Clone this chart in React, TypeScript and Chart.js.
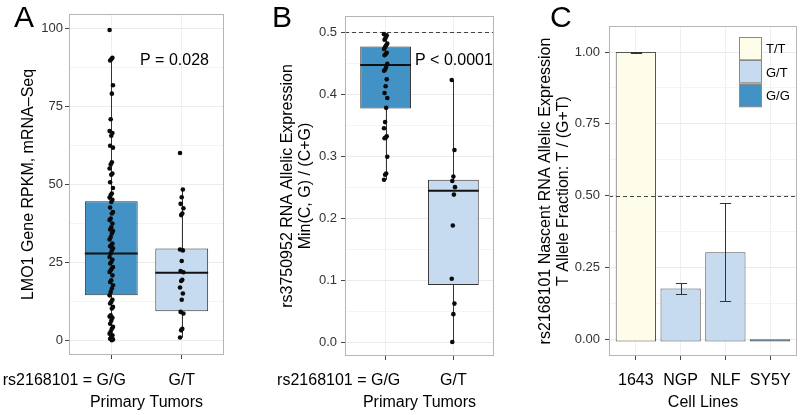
import React, { useEffect, useRef } from 'react';
import { Chart, registerables } from 'chart.js';

Chart.register(...registerables);

const FONT = '"Liberation Sans", Arial, Helvetica, sans-serif';
const PAGE_W = 800;
const PAGE_H = 415;

const GG_FILL = '#4292c6';
const GT_FILL = '#c6dbef';
const TT_FILL = '#fefdea';

// ---------------- Panel A ----------------
const aGroups = ['G/G', 'G/T'];
const aValuesGG = [99.4, 90.5, 90.0, 89.6, 81.7, 79.0, 70.8, 67.0, 66.4, 65.5, 62.3, 61.7, 57.0, 56.3, 55.0, 53.4, 53.0, 50.6, 48.8, 47.0, 46.5, 45.7, 45.0, 44.3, 42.5, 41.1, 40.6, 39.0, 38.5, 37.4, 36.2, 35.5, 35.0, 34.2, 33.1, 32.3, 31.0, 30.4, 30.1, 29.5, 28.8, 27.8, 26.7, 25.8, 25.1, 24.6, 23.5, 23.0, 22.4, 21.9, 20.8, 19.2, 18.7, 17.6, 16.6, 15.5, 14.4, 13.0, 12.3, 11.8, 10.7, 10.2, 8.0, 7.6, 7.2, 6.3, 5.3, 4.3, 3.7, 2.8, 2.1, 1.6, 1.1, 0.5, 0.3, 0.0];
const aValuesGT = [60.0, 48.3, 45.8, 43.7, 42.3, 40.6, 40.1, 29.1, 28.8, 25.4, 22.2, 21.8, 19.4, 19.0, 16.9, 15.0, 13.0, 9.1, 8.6, 3.7, 3.2, 0.9];
const aQ1 = [14.4, 9.3];
const aMedian = [27.8, 21.6];
const aQ3 = [44.5, 29.4];
const aWhiskerLow = [0.0, 0.9];
const aWhiskerHigh = [90.5, 48.3];
const aYTicks = [0, 25, 50, 75, 100];
const aYTickLabels = ['0', '25', '50', '75', '100'];
const aPLabel = 'P = 0.028';

// ---------------- Panel B ----------------
const bGroups = ['G/G', 'G/T'];
const bValuesGG = [0.497, 0.495, 0.491, 0.488, 0.482, 0.479, 0.476, 0.473, 0.467, 0.465, 0.463, 0.449, 0.444, 0.44, 0.438, 0.424, 0.413, 0.402, 0.394, 0.378, 0.355, 0.345, 0.332, 0.33, 0.329, 0.299, 0.272, 0.27, 0.262];
const bValuesGT = [0.423, 0.31, 0.267, 0.26, 0.25, 0.238, 0.188, 0.102, 0.062, 0.045, 0.0];
const bQ1 = [0.377, 0.092];
const bMedian = [0.447, 0.244];
const bQ3 = [0.477, 0.262];
const bWhiskerLow = [0.262, 0.0];
const bWhiskerHigh = [0.497, 0.423];
const bYTicks = [0, 0.1, 0.2, 0.3, 0.4, 0.5];
const bYTickLabels = ['0.0', '0.1', '0.2', '0.3', '0.4', '0.5'];
const bRefLine = 0.5;
const bPLabel = 'P < 0.0001';

// ---------------- Panel C ----------------
const cCellLines = ['1643', 'NGP', 'NLF', 'SY5Y'];
const cGenotype = ['T/T', 'G/T', 'G/T', 'G/G'];
const cFraction = [1.0, 0.176, 0.302, -0.001];
const cErrLow = [0.998, 0.158, 0.133, -0.001];
const cErrHigh = [1.001, 0.194, 0.473, -0.001];
const cBarBase = -0.009;
const cYTicks = [0, 0.25, 0.5, 0.75, 1.0];
const cYTickLabels = ['0.00', '0.25', '0.50', '0.75', '1.00'];
const cRefLine = 0.5;
const cLegendLabels = ['T/T', 'G/T', 'G/G'];

const genotypeFill: Record<string, string> = { 'T/T': TT_FILL, 'G/T': GT_FILL, 'G/G': GG_FILL };

// small horizontal jitter (position only)
const jitter = (i: number) => (((i * 5) % 7) - 3) * 0.008;

type Spec = {
  key: string;
  canvasLeft: number;
  canvasWidth: number;
  area: { l: number; r: number; t: number; b: number };
  categories: string[];
  xPrefix?: string;
  yMin: number;
  yMax: number;
  yMajor: number[];
  yLabels: string[];
  tickPad: number;
  datasets: any[];
  box?: { q1: number[]; median: number[]; q3: number[]; lo: number[]; hi: number[] };
  refLine?: number;
  refOnTop?: boolean;
  errors?: { lo: number[]; hi: number[] };
  xTitle: string;
  yTitle: string[];
  yTitleX: number[];
  letter: string;
  letterX: number;
  note?: { text: string; x: number; y: number };
  legend?: { labels: string[]; x: number; y: number; w: number; h: number };
};

function pointsFor(groups: number[][]) {
  const out: { x: number; y: number }[] = [];
  groups.forEach((vals, g) => vals.forEach((v, i) => out.push({ x: g + 1 + jitter(i), y: v })));
  return out;
}

function boxDatasets(q1: number[], q3: number[], pts: { x: number; y: number }[]) {
  return [
    {
      type: 'scatter',
      data: pts,
      pointRadius: 2.3,
      pointBackgroundColor: '#0a0a0a',
      pointBorderWidth: 0,
      order: 0,
    },
    {
      type: 'bar',
      data: q1.map((v, i) => ({ x: i + 1, y: [v, q3[i]] })),
      backgroundColor: [GG_FILL, GT_FILL],
      borderColor: '#333333',
      borderWidth: 1,
      borderSkipped: false,
      barPercentage: 0.75,
      categoryPercentage: 1,
      order: 1,
    },
  ];
}

const specA: Spec = {
  key: 'A',
  canvasLeft: 0,
  canvasWidth: 265,
  area: { l: 69, r: 224, t: 14, b: 355 },
  categories: aGroups,
  xPrefix: 'rs2168101 = ',
  yMin: -4.7,
  yMax: 104.5,
  yMajor: aYTicks,
  yLabels: aYTickLabels,
  tickPad: 2,
  datasets: boxDatasets(aQ1, aQ3, pointsFor([aValuesGG, aValuesGT])),
  box: { q1: aQ1, median: aMedian, q3: aQ3, lo: aWhiskerLow, hi: aWhiskerHigh },
  xTitle: 'Primary Tumors',
  yTitle: ['LMO1 Gene RPKM, mRNA\u2013Seq'],
  yTitleX: [29],
  letter: 'A',
  letterX: 14,
  note: { text: aPLabel, x: 140, y: 65 },
};

const specB: Spec = {
  key: 'B',
  canvasLeft: 265,
  canvasWidth: 265,
  area: { l: 80, r: 229, t: 16, b: 356 },
  categories: bGroups,
  xPrefix: 'rs2168101 = ',
  yMin: -0.0226,
  yMax: 0.5263,
  yMajor: bYTicks,
  yLabels: bYTickLabels,
  tickPad: 4,
  datasets: boxDatasets(bQ1, bQ3, pointsFor([bValuesGG, bValuesGT])),
  box: { q1: bQ1, median: bMedian, q3: bQ3, lo: bWhiskerLow, hi: bWhiskerHigh },
  refLine: bRefLine,
  refOnTop: false,
  xTitle: 'Primary Tumors',
  yTitle: ['rs3750952 RNA Allelic Expression', 'Min(C, G) / (C+G)'],
  yTitleX: [23, 41],
  letter: 'B',
  letterX: 7,
  note: { text: bPLabel, x: 150, y: 65 },
};

const specC: Spec = {
  key: 'C',
  canvasLeft: 530,
  canvasWidth: 270,
  area: { l: 79, r: 267, t: 26, b: 356 },
  categories: cCellLines,
  yMin: -0.0592,
  yMax: 1.0906,
  yMajor: cYTicks,
  yLabels: cYTickLabels,
  tickPad: 5,
  datasets: [
    {
      type: 'bar',
      data: cFraction.map((v, i) => ({ x: i + 1, y: [cBarBase, v] })),
      backgroundColor: cGenotype.map((g) => genotypeFill[g]),
      borderColor: '#555555',
      borderWidth: 1,
      borderSkipped: false,
      barPercentage: 0.9,
      categoryPercentage: 1,
    },
  ],
  refLine: cRefLine,
  refOnTop: true,
  errors: { lo: cErrLow, hi: cErrHigh },
  xTitle: 'Cell Lines',
  yTitle: ['rs2168101 Nascent RNA Allelic Expression', 'T Allele Fraction: T / (G+T)'],
  yTitleX: [16, 34],
  letter: 'C',
  letterX: 20,
  legend: { labels: cLegendLabels, x: 209, y: 37, w: 23, h: 23.3 },
};

const near = (a: number, b: number) => Math.abs(a - b) < 1e-9;

function drawRef(chart: any, value: number) {
  const ctx = chart.ctx;
  const ys = chart.scales.y;
  const ca = chart.chartArea;
  const y = Math.round(ys.getPixelForValue(value)) + 0.5;
  ctx.save();
  ctx.strokeStyle = '#444';
  ctx.lineWidth = 1;
  ctx.setLineDash([4, 3]);
  ctx.beginPath();
  ctx.moveTo(ca.left, y);
  ctx.lineTo(ca.right, y);
  ctx.stroke();
  ctx.restore();
}

function buildChart(canvas: HTMLCanvasElement, spec: Spec) {
  const { area } = spec;
  const minor: number[] = [];
  for (let i = 0; i < spec.yMajor.length - 1; i++) minor.push((spec.yMajor[i] + spec.yMajor[i + 1]) / 2);
  const allY = [...spec.yMajor, ...minor]
    .filter((v) => v >= spec.yMin && v <= spec.yMax)
    .sort((a, b) => a - b);
  const isMajor = (v: number) => spec.yMajor.some((m) => near(m, v));

  const decor = {
    id: 'decor' + spec.key,
    beforeDatasetsDraw(chart: any) {
      const ctx = chart.ctx;
      const xs = chart.scales.x;
      const ys = chart.scales.y;
      if (spec.refLine !== undefined && !spec.refOnTop) drawRef(chart, spec.refLine);
      if (spec.box) {
        const b = spec.box;
        ctx.save();
        ctx.strokeStyle = '#333';
        ctx.lineWidth = 1;
        b.q1.forEach((_, i) => {
          const x = Math.round(xs.getPixelForValue(i + 1)) + 0.5;
          ctx.beginPath();
          ctx.moveTo(x, ys.getPixelForValue(b.lo[i]));
          ctx.lineTo(x, ys.getPixelForValue(b.q1[i]));
          ctx.moveTo(x, ys.getPixelForValue(b.q3[i]));
          ctx.lineTo(x, ys.getPixelForValue(b.hi[i]));
          ctx.stroke();
        });
        ctx.restore();
      }
    },
    afterDatasetDraw(chart: any, args: any) {
      if (!spec.box || args.meta.type !== 'bar') return;
      const ctx = chart.ctx;
      const ys = chart.scales.y;
      ctx.save();
      ctx.strokeStyle = '#111';
      ctx.lineWidth = 2;
      args.meta.data.forEach((el: any, i: number) => {
        const y = ys.getPixelForValue(spec.box!.median[i]);
        ctx.beginPath();
        ctx.moveTo(el.x - el.width / 2, y);
        ctx.lineTo(el.x + el.width / 2, y);
        ctx.stroke();
      });
      ctx.restore();
    },
    afterDatasetsDraw(chart: any) {
      if (spec.refLine !== undefined && spec.refOnTop) drawRef(chart, spec.refLine);
      if (!spec.errors) return;
      const ctx = chart.ctx;
      const xs = chart.scales.x;
      const ys = chart.scales.y;
      ctx.save();
      ctx.strokeStyle = '#333';
      ctx.lineWidth = 1;
      spec.errors.lo.forEach((lo, i) => {
        const hi = spec.errors!.hi[i];
        if (near(lo, hi)) return;
        const x = Math.round(xs.getPixelForValue(i + 1)) + 0.5;
        const half = xs.getPixelForValue(i + 1.125) - xs.getPixelForValue(i + 1);
        const yl = Math.round(ys.getPixelForValue(lo)) + 0.5;
        const yh = Math.round(ys.getPixelForValue(hi)) + 0.5;
        ctx.beginPath();
        ctx.moveTo(x, yl);
        ctx.lineTo(x, yh);
        ctx.moveTo(x - half, yl);
        ctx.lineTo(x + half, yl);
        ctx.moveTo(x - half, yh);
        ctx.lineTo(x + half, yh);
        ctx.stroke();
      });
      ctx.restore();
    },
    afterDraw(chart: any) {
      const ctx = chart.ctx;
      const xs = chart.scales.x;
      const ca = chart.chartArea;
      ctx.save();
      // panel border
      ctx.strokeStyle = '#b5b5b5';
      ctx.lineWidth = 1;
      ctx.strokeRect(ca.left + 0.5, ca.top + 0.5, ca.right - ca.left - 1, ca.bottom - ca.top - 1);

      // x category labels
      ctx.fillStyle = '#000';
      ctx.textBaseline = 'alphabetic';
      ctx.font = `16px ${FONT}`;
      spec.categories.forEach((lab, i) => {
        const cx = xs.getPixelForValue(i + 1);
        ctx.textAlign = 'center';
        ctx.fillText(lab, cx, 385);
        if (i === 0 && spec.xPrefix) {
          const w = ctx.measureText(lab).width;
          ctx.textAlign = 'right';
          ctx.fillText(spec.xPrefix, cx - w / 2, 385);
        }
      });
      // x title
      ctx.textAlign = 'center';
      ctx.fillText(spec.xTitle, (ca.left + ca.right) / 2, 407);

      // y title
      const cy = (ca.top + ca.bottom) / 2;
      spec.yTitle.forEach((line, i) => {
        ctx.save();
        ctx.translate(spec.yTitleX[i], cy);
        ctx.rotate(-Math.PI / 2);
        ctx.textAlign = 'center';
        ctx.textBaseline = 'middle';
        ctx.fillText(line, 0, 0);
        ctx.restore();
      });

      // panel letter
      ctx.font = `30px ${FONT}`;
      ctx.textAlign = 'left';
      ctx.textBaseline = 'alphabetic';
      ctx.fillText(spec.letter, spec.letterX, 27);

      // annotation
      if (spec.note) {
        ctx.font = `16px ${FONT}`;
        ctx.fillText(spec.note.text, spec.note.x, spec.note.y);
      }

      // legend
      if (spec.legend) {
        const lg = spec.legend;
        ctx.font = `13px ${FONT}`;
        lg.labels.forEach((lab, i) => {
          const y = lg.y + i * lg.h;
          ctx.fillStyle = genotypeFill[lab];
          ctx.fillRect(lg.x, y, lg.w, lg.h);
          ctx.strokeStyle = '#8a8a8a';
          ctx.lineWidth = 1;
          ctx.strokeRect(lg.x + 0.5, Math.round(y) + 0.5, lg.w - 1, lg.h - 1);
          ctx.fillStyle = '#000';
          ctx.textAlign = 'left';
          ctx.textBaseline = 'middle';
          ctx.fillText(lab, lg.x + lg.w + 4, y + lg.h / 2 + 1);
        });
      }
      ctx.restore();
    },
  };

  return new Chart(canvas, {
    type: 'bar',
    data: { datasets: spec.datasets as any },
    options: {
      responsive: false,
      animation: false,
      events: [],
      layout: { padding: { left: 0, top: area.t, right: spec.canvasWidth - area.r, bottom: 0 } },
      plugins: { legend: { display: false }, tooltip: { enabled: false }, title: { display: false } },
      scales: {
        x: {
          type: 'linear',
          min: 0.4,
          max: spec.categories.length + 0.6,
          offset: false,
          afterBuildTicks: (s: any) => {
            s.ticks = spec.categories.map((_, i) => ({ value: i + 1 }));
          },
          afterFit: (s: any) => {
            s.height = PAGE_H - area.b;
          },
          grid: { offset: false, color: '#efefef', lineWidth: 1, drawTicks: true, tickLength: 4, tickColor: '#444' },
          border: { display: false },
          ticks: { callback: () => '', autoSkip: false, maxRotation: 0 },
        },
        y: {
          type: 'linear',
          min: spec.yMin,
          max: spec.yMax,
          afterBuildTicks: (s: any) => {
            s.ticks = allY.map((v) => ({ value: v }));
          },
          afterFit: (s: any) => {
            s.width = area.l;
          },
          grid: {
            color: (c: any) => (c.tick && isMajor(c.tick.value) ? '#ebebeb' : '#f4f4f4'),
            lineWidth: 1,
            drawTicks: true,
            tickLength: 4,
            tickColor: (c: any) => (c.tick && isMajor(c.tick.value) ? '#444' : 'rgba(0,0,0,0)'),
          },
          border: { display: false },
          ticks: {
            autoSkip: false,
            padding: spec.tickPad,
            color: '#333',
            font: { family: FONT, size: 13 },
            callback: (v: any) => {
              const idx = spec.yMajor.findIndex((m) => near(m, Number(v)));
              return idx >= 0 ? spec.yLabels[idx] : '';
            },
          },
        },
      },
    } as any,
    plugins: [decor],
  });
}

function Panel({ spec }: { spec: Spec }) {
  const ref = useRef<HTMLCanvasElement>(null);
  useEffect(() => {
    if (!ref.current) return;
    const chart = buildChart(ref.current, spec);
    return () => chart.destroy();
  }, [spec]);
  return (
    <canvas
      ref={ref}
      width={spec.canvasWidth}
      height={PAGE_H}
      style={{ position: 'absolute', left: spec.canvasLeft, top: 0, width: spec.canvasWidth, height: PAGE_H }}
    />
  );
}

export default function App() {
  return (
    <div
      style={{
        position: 'fixed',
        left: 0,
        top: 0,
        width: PAGE_W,
        height: PAGE_H,
        background: '#ffffff',
        overflow: 'hidden',
      }}
    >
      <Panel spec={specA} />
      <Panel spec={specB} />
      <Panel spec={specC} />
    </div>
  );
}
